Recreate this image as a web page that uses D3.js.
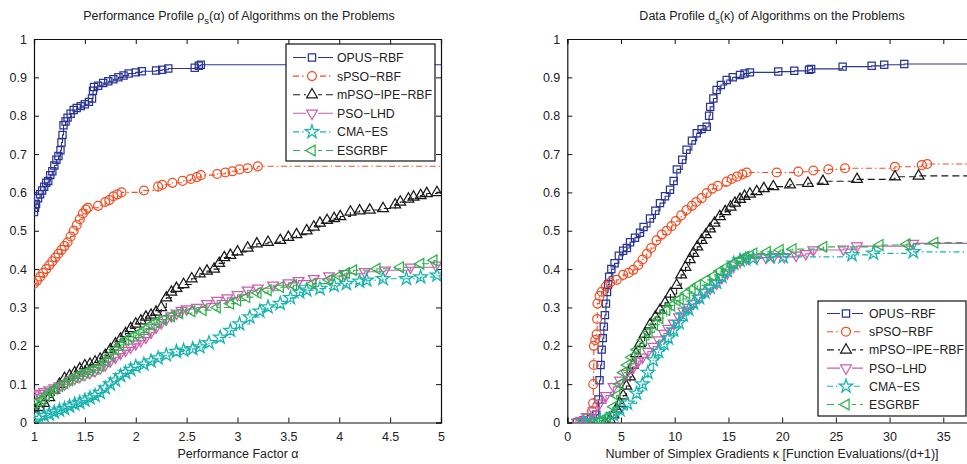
<!DOCTYPE html>
<html><head><meta charset="utf-8">
<script src="https://cdn.jsdelivr.net/npm/d3@7"></script>
<style>
body{margin:0;background:#fff;}
text{font-family:"Liberation Sans",Arial,Helvetica,sans-serif;fill:#222;}
</style>
</head><body>
<svg id="chart" width="967" height="464"></svg>
<script>
// ---------- data ----------
const seriesNames = ["OPUS\u2212RBF","sPSO\u2212RBF","mPSO\u2212IPE\u2212RBF","PSO\u2212LHD","CMA\u2212ES","ESGRBF"];
const seriesColors = ["#2b3593","#f04e23","#1a1a1a","#c95fae","#17b3ae","#2db34a"];
const seriesDash = [null,"6,3,1.5,3","7,4",null,"6,3,1.5,3","7,4"];
const seriesMarkers = ["square","circle","triUp","triDown","star","triLeft"];

const perfTicksX = [1,1.5,2,2.5,3,3.5,4,4.5,5];
const dataTicksX = [0,5,10,15,20,25,30,35];
const yTicks = [0,0.1,0.2,0.3,0.4,0.5,0.6,0.7,0.8,0.9,1];

// Performance profile (alpha, rho)
const perfOPUS = [[1.00,0.549],[1.01,0.56],[1.02,0.57],[1.04,0.585],[1.06,0.595],[1.08,0.605],[1.10,0.615],[1.12,0.625],[1.14,0.63],[1.16,0.645],[1.18,0.655],[1.20,0.67],[1.22,0.685],[1.24,0.695],[1.26,0.71],[1.27,0.73],[1.28,0.75],[1.29,0.775],[1.31,0.785],[1.33,0.795],[1.36,0.805],[1.39,0.815],[1.42,0.82],[1.46,0.825],[1.50,0.83],[1.54,0.836],[1.57,0.845],[1.58,0.865],[1.59,0.875],[1.63,0.878],[1.68,0.885],[1.73,0.89],[1.78,0.895],[1.83,0.9],[1.88,0.905],[1.93,0.91],[2.00,0.913],[2.06,0.916],[2.20,0.918],[2.26,0.92],[2.32,0.923],[2.58,0.925],[2.62,0.93],[2.64,0.933]];
const perfSPSO = [[1.00,0.362],[1.03,0.37],[1.06,0.38],[1.09,0.39],[1.12,0.40],[1.15,0.41],[1.18,0.42],[1.21,0.43],[1.24,0.44],[1.27,0.45],[1.30,0.46],[1.33,0.47],[1.36,0.485],[1.39,0.50],[1.42,0.515],[1.45,0.53],[1.48,0.545],[1.51,0.555],[1.53,0.56],[1.63,0.565],[1.70,0.575],[1.74,0.58],[1.78,0.59],[1.82,0.595],[1.86,0.60],[2.08,0.605],[2.22,0.615],[2.26,0.62],[2.36,0.625],[2.46,0.63],[2.54,0.635],[2.60,0.64],[2.64,0.645],[2.80,0.648],[2.88,0.652],[2.95,0.655],[3.02,0.66],[3.10,0.663],[3.20,0.668]];
const perfMPSO = [[1.00,0.036],[1.05,0.04],[1.10,0.05],[1.15,0.065],[1.20,0.085],[1.25,0.10],[1.30,0.115],[1.35,0.122],[1.40,0.13],[1.45,0.14],[1.50,0.148],[1.55,0.152],[1.60,0.158],[1.65,0.165],[1.70,0.175],[1.75,0.19],[1.80,0.205],[1.85,0.218],[1.90,0.232],[1.95,0.245],[2.00,0.257],[2.05,0.265],[2.10,0.275],[2.15,0.28],[2.20,0.288],[2.25,0.30],[2.30,0.325],[2.35,0.34],[2.40,0.35],[2.47,0.36],[2.55,0.375],[2.63,0.388],[2.70,0.395],[2.77,0.40],[2.82,0.415],[2.87,0.43],[2.93,0.436],[3.00,0.445],[3.10,0.455],[3.19,0.466],[3.30,0.47],[3.42,0.475],[3.50,0.483],[3.58,0.49],[3.68,0.50],[3.75,0.51],[3.81,0.52],[3.88,0.527],[3.95,0.532],[4.01,0.537],[4.11,0.549],[4.20,0.552],[4.30,0.554],[4.43,0.558],[4.55,0.568],[4.60,0.575],[4.68,0.583],[4.73,0.588],[4.80,0.592],[4.86,0.597],[4.96,0.600]];
const perfLHD = [[1.00,0.072],[1.05,0.076],[1.10,0.08],[1.15,0.085],[1.20,0.09],[1.25,0.095],[1.30,0.10],[1.35,0.11],[1.40,0.115],[1.45,0.12],[1.50,0.125],[1.55,0.13],[1.60,0.135],[1.65,0.142],[1.70,0.15],[1.75,0.16],[1.80,0.17],[1.85,0.18],[1.90,0.188],[1.95,0.196],[2.00,0.205],[2.05,0.213],[2.10,0.222],[2.15,0.235],[2.20,0.248],[2.25,0.26],[2.30,0.27],[2.35,0.278],[2.40,0.285],[2.45,0.292],[2.50,0.296],[2.60,0.30],[2.70,0.31],[2.80,0.318],[2.90,0.325],[3.00,0.333],[3.10,0.345],[3.20,0.35],[3.35,0.358],[3.50,0.364],[3.60,0.37],[3.75,0.375],[3.90,0.382],[4.05,0.388],[4.25,0.393],[4.45,0.397],[4.70,0.405],[4.95,0.41]];
const perfCMA = [[1.00,0.003],[1.05,0.01],[1.10,0.018],[1.15,0.022],[1.20,0.027],[1.25,0.032],[1.30,0.036],[1.35,0.042],[1.40,0.048],[1.45,0.052],[1.50,0.058],[1.55,0.064],[1.60,0.07],[1.65,0.078],[1.70,0.09],[1.75,0.10],[1.80,0.11],[1.85,0.122],[1.90,0.13],[1.95,0.138],[2.00,0.146],[2.08,0.152],[2.15,0.16],[2.22,0.168],[2.30,0.176],[2.40,0.185],[2.47,0.188],[2.56,0.192],[2.63,0.197],[2.72,0.208],[2.83,0.222],[2.93,0.24],[3.02,0.257],[3.12,0.275],[3.22,0.29],[3.30,0.301],[3.42,0.31],[3.52,0.325],[3.61,0.34],[3.68,0.345],[3.81,0.349],[3.95,0.357],[4.07,0.362],[4.20,0.368],[4.27,0.371],[4.43,0.375],[4.66,0.375],[4.80,0.379],[4.96,0.384]];
const perfESG = [[1.00,0.049],[1.04,0.055],[1.08,0.06],[1.12,0.07],[1.16,0.08],[1.20,0.088],[1.25,0.095],[1.30,0.103],[1.35,0.11],[1.40,0.118],[1.45,0.124],[1.50,0.13],[1.55,0.135],[1.60,0.14],[1.65,0.148],[1.70,0.16],[1.75,0.175],[1.80,0.19],[1.85,0.202],[1.90,0.215],[1.95,0.222],[2.00,0.228],[2.05,0.235],[2.10,0.245],[2.15,0.255],[2.20,0.262],[2.27,0.268],[2.35,0.277],[2.43,0.285],[2.55,0.29],[2.66,0.293],[2.80,0.30],[2.93,0.31],[3.00,0.318],[3.09,0.327],[3.20,0.338],[3.30,0.345],[3.42,0.353],[3.55,0.358],[3.74,0.362],[3.90,0.372],[4.00,0.382],[4.07,0.39],[4.14,0.397],[4.37,0.401],[4.60,0.405],[4.80,0.414],[4.93,0.423]];

// Data profile (kappa, d)
const dataOPUS = [[0.9,0.0],[1.5,0.005],[2.2,0.01],[2.7,0.02],[2.9,0.06],[3.0,0.11],[3.1,0.15],[3.2,0.19],[3.3,0.22],[3.4,0.25],[3.5,0.28],[3.6,0.31],[3.7,0.34],[3.8,0.36],[3.9,0.38],[4.1,0.40],[4.4,0.415],[4.8,0.435],[5.2,0.448],[5.55,0.455],[5.84,0.47],[6.3,0.482],[6.77,0.495],[7.1,0.51],[7.7,0.532],[8.2,0.552],[8.63,0.572],[9.1,0.59],[9.56,0.607],[9.9,0.63],[10.2,0.66],[10.7,0.685],[11.1,0.711],[11.6,0.735],[12.05,0.754],[12.5,0.765],[12.98,0.771],[13.2,0.80],[13.3,0.823],[13.6,0.845],[13.9,0.867],[14.3,0.88],[14.84,0.893],[15.4,0.90],[16.08,0.906],[16.5,0.91],[17.0,0.913],[19.64,0.915],[21.13,0.917],[22.5,0.92],[22.7,0.922],[25.63,0.928],[28.33,0.93],[29.5,0.933],[31.37,0.935]];
const dataSPSO = [[1.2,0.0],[1.8,0.01],[2.3,0.03],[2.4,0.05],[2.42,0.1],[2.45,0.15],[2.47,0.2],[2.6,0.215],[2.73,0.23],[2.78,0.27],[2.8,0.31],[3.0,0.33],[3.2,0.341],[3.6,0.355],[4.0,0.365],[4.6,0.372],[5.2,0.385],[5.7,0.39],[6.14,0.398],[6.6,0.41],[7.0,0.425],[7.4,0.44],[7.8,0.455],[8.3,0.475],[8.8,0.49],[9.25,0.50],[9.7,0.512],[10.1,0.525],[10.6,0.54],[11.1,0.554],[11.6,0.565],[12.0,0.575],[12.5,0.585],[12.98,0.598],[13.5,0.61],[14.0,0.617],[14.84,0.628],[15.3,0.635],[15.8,0.641],[16.3,0.647],[16.7,0.652],[19.49,0.652],[21.5,0.654],[22.9,0.657],[24.3,0.66],[25.85,0.663],[30.5,0.667],[33.0,0.671],[33.5,0.674]];
const dataMPSO = [[3.5,0.0],[3.98,0.007],[4.3,0.02],[4.6,0.035],[4.9,0.05],[5.2,0.07],[5.5,0.095],[5.84,0.119],[6.1,0.15],[6.4,0.18],[6.77,0.206],[7.2,0.23],[7.7,0.255],[8.2,0.275],[8.63,0.293],[9.1,0.312],[9.6,0.335],[10.18,0.358],[10.6,0.385],[11.0,0.405],[11.4,0.425],[11.73,0.441],[12.1,0.458],[12.5,0.475],[12.9,0.49],[13.29,0.505],[13.7,0.52],[14.2,0.537],[14.7,0.55],[15.2,0.562],[15.6,0.572],[16.08,0.582],[16.5,0.59],[17.0,0.596],[17.63,0.602],[18.3,0.61],[19.18,0.615],[20.73,0.62],[22.4,0.624],[23.8,0.629],[26.97,0.634],[30.5,0.641],[32.7,0.643]];
const dataLHD = [[0.9,0.0],[1.3,0.005],[1.8,0.015],[2.45,0.03],[3.0,0.05],[3.6,0.07],[4.31,0.093],[4.9,0.11],[5.5,0.128],[6.17,0.145],[6.6,0.16],[7.0,0.17],[7.5,0.185],[8.0,0.198],[8.5,0.215],[9.0,0.232],[9.4,0.245],[9.9,0.259],[10.4,0.275],[10.8,0.29],[11.3,0.3],[11.75,0.311],[12.3,0.325],[12.8,0.34],[13.3,0.35],[13.9,0.363],[14.4,0.378],[14.9,0.39],[15.5,0.41],[16.08,0.42],[16.7,0.428],[17.63,0.43],[18.5,0.43],[19.2,0.432],[20.2,0.432],[21.3,0.436],[22.2,0.44],[22.9,0.45],[25.7,0.452],[26.97,0.46],[32.2,0.467]];
const dataCMA = [[1.5,0.002],[2.2,0.004],[3.0,0.005],[3.66,0.007],[4.3,0.02],[4.9,0.033],[5.6,0.05],[6.45,0.076],[7.0,0.1],[7.5,0.13],[8.0,0.163],[8.5,0.185],[9.0,0.205],[9.4,0.22],[9.9,0.241],[10.4,0.26],[10.8,0.28],[11.3,0.295],[11.75,0.311],[12.3,0.325],[12.8,0.34],[13.3,0.352],[13.9,0.365],[14.4,0.38],[14.9,0.395],[15.5,0.415],[16.08,0.423],[16.6,0.426],[17.3,0.428],[18.9,0.432],[20.1,0.432],[26.5,0.437],[28.5,0.441],[32.2,0.445]];
const dataESG = [[2.73,0.0],[3.2,0.005],[3.7,0.015],[4.31,0.041],[4.6,0.07],[4.9,0.1],[5.24,0.13],[5.6,0.15],[6.0,0.17],[6.5,0.19],[7.08,0.215],[7.6,0.235],[8.1,0.255],[8.6,0.272],[9.25,0.293],[9.7,0.305],[10.2,0.318],[10.5,0.322],[11.1,0.337],[11.6,0.348],[12.1,0.358],[12.98,0.372],[13.6,0.382],[14.2,0.395],[14.8,0.405],[15.5,0.415],[16.1,0.425],[16.6,0.432],[17.35,0.441],[18.6,0.445],[19.8,0.45],[21.0,0.452],[23.86,0.458],[29.1,0.463],[31.6,0.465],[34.2,0.469]];

const perfSeries = [perfOPUS, perfSPSO, perfMPSO, perfLHD, perfCMA, perfESG];
const dataSeries = [dataOPUS, dataSPSO, dataMPSO, dataLHD, dataCMA, dataESG];

// ---------- drawing ----------
const svg = d3.select("#chart");

function markerPath(type){
  switch(type){
    case "square": return {d: d3.symbol(d3.symbolSquare, 52)(), rot: 0};
    case "circle": return {d: d3.symbol(d3.symbolCircle, 62)(), rot: 0};
    case "triUp": return {d: d3.symbol(d3.symbolTriangle, 50)(), rot: 0};
    case "triDown": return {d: d3.symbol(d3.symbolTriangle, 50)(), rot: 180};
    case "triLeft": return {d: d3.symbol(d3.symbolTriangle, 50)(), rot: -90};
    case "star": return {d: d3.symbol(d3.symbolStar, 56)(), rot: 0};
  }
}

function drawMarker(g, type, color, x, y){
  const m = markerPath(type);
  g.append("path").attr("d", m.d)
    .attr("transform", `translate(${x},${y}) rotate(${m.rot})`)
    .attr("fill","none").attr("stroke", color).attr("stroke-width", 1.25);
}

function drawPanel(opts){
  const {x0, x1, y0, y1, xDomain, xTicks, series, title, xlabel} = opts;
  const x = d3.scaleLinear().domain(xDomain).range([x0, x1]);
  const y = d3.scaleLinear().domain([0,1]).range([y0, y1]);
  const g = svg.append("g");

  const axB = g.append("g").attr("transform", `translate(0,${y0})`)
    .call(d3.axisBottom(x).tickValues(xTicks).tickSize(-5).tickPadding(10).tickFormat(d3.format("")));
  const axT = g.append("g").attr("transform", `translate(0,${y1})`)
    .call(d3.axisTop(x).tickValues(xTicks).tickSize(-5).tickFormat(""));
  const axL = g.append("g").attr("transform", `translate(${x0},0)`)
    .call(d3.axisLeft(y).tickValues(yTicks).tickSize(-5).tickPadding(7).tickFormat(d3.format("")));
  const axR = g.append("g").attr("transform", `translate(${x1},0)`)
    .call(d3.axisRight(y).tickValues(yTicks).tickSize(-5).tickFormat(""));
  [axB, axT, axL, axR].forEach(a => {
    a.select(".domain").attr("stroke","#111").attr("stroke-width",1.2);
    a.selectAll(".tick line").attr("stroke","#111");
    a.selectAll("text").attr("font-size", 12.5).attr("fill","#222")
      .attr("font-family",'"Liberation Sans",Arial,sans-serif');
  });

  const clipId = "clip" + Math.round(x0);
  g.append("clipPath").attr("id", clipId).append("rect")
    .attr("x", x0).attr("y", y1).attr("width", x1 - x0).attr("height", y0 - y1);
  const plot = g.append("g").attr("clip-path", `url(#${clipId})`);

  series.forEach((pts, i) => {
    const ext = pts.concat([[xDomain[1], pts[pts.length-1][1]]]);
    const line = d3.line().x(d => x(d[0])).y(d => y(d[1])).curve(d3.curveStepAfter);
    plot.append("path").attr("d", line(ext)).attr("fill","none")
      .attr("stroke", seriesColors[i]).attr("stroke-width", 1.1)
      .attr("stroke-dasharray", seriesDash[i]);
    const mg = plot.append("g");
    pts.forEach(p => drawMarker(mg, seriesMarkers[i], seriesColors[i], x(p[0]), y(p[1])));
  });

  const t = svg.append("text").attr("x", opts.titleX).attr("y", 20)
    .attr("text-anchor","middle").attr("font-size", 12.5);
  title.forEach(part => {
    const ts = t.append("tspan").text(part.t);
    if (part.sub) ts.attr("font-size", 9.5).attr("dy", 4);
    if (part.after) ts.attr("dy", -4);
  });
  svg.append("text").attr("x", opts.xlabelX).attr("y", 458)
    .attr("text-anchor","middle").attr("font-size", 12.5).text(xlabel);
}

drawPanel({
  x0: 34, x1: 441, y0: 422.5, y1: 39,
  xDomain: [1,5], xTicks: perfTicksX, series: perfSeries,
  title: [{t:"Performance Profile \u03C1"},{t:"s",sub:true},{t:"(\u03B1) of Algorithms on the Problems",after:true}],
  titleX: 239,
  xlabel: "Performance Factor \u03B1", xlabelX: 238
});
drawPanel({
  x0: 567.3, x1: 997, y0: 422.5, y1: 39,
  xDomain: [0,40], xTicks: dataTicksX, series: dataSeries,
  title: [{t:"Data Profile d"},{t:"s",sub:true},{t:"(\u03BA) of Algorithms on the Problems",after:true}],
  titleX: 772,
  xlabel: "Number of Simplex Gradients \u03BA [Function Evaluations/(d+1)]", xlabelX: 772
});

function drawLegend(bx, by, bw, bh, lx0, lx1, mx, tx, ty0, dy){
  const g = svg.append("g");
  g.append("rect").attr("x", bx).attr("y", by).attr("width", bw).attr("height", bh)
    .attr("fill","#fff").attr("stroke","#111").attr("stroke-width",1.2);
  seriesNames.forEach((name, i) => {
    const yy = ty0 + i * dy;
    g.append("line").attr("x1", lx0).attr("x2", lx1).attr("y1", yy).attr("y2", yy)
      .attr("stroke", seriesColors[i]).attr("stroke-width", 1.1)
      .attr("stroke-dasharray", seriesDash[i]);
    g.append("rect").attr("x", mx - 6).attr("y", yy - 6).attr("width", 12).attr("height", 12).attr("fill","#fff");
    drawMarker(g, seriesMarkers[i], seriesColors[i], mx, yy);
    g.append("text").attr("x", tx).attr("y", yy + 4.5).attr("font-size", 12.3).text(name);
  });
}
drawLegend(286, 44, 149, 117, 293, 333, 312, 337, 57.5, 18.6);
drawLegend(818, 301, 148, 115, 827, 863, 846, 869, 313.5, 18.2);
</script>
</body></html>
